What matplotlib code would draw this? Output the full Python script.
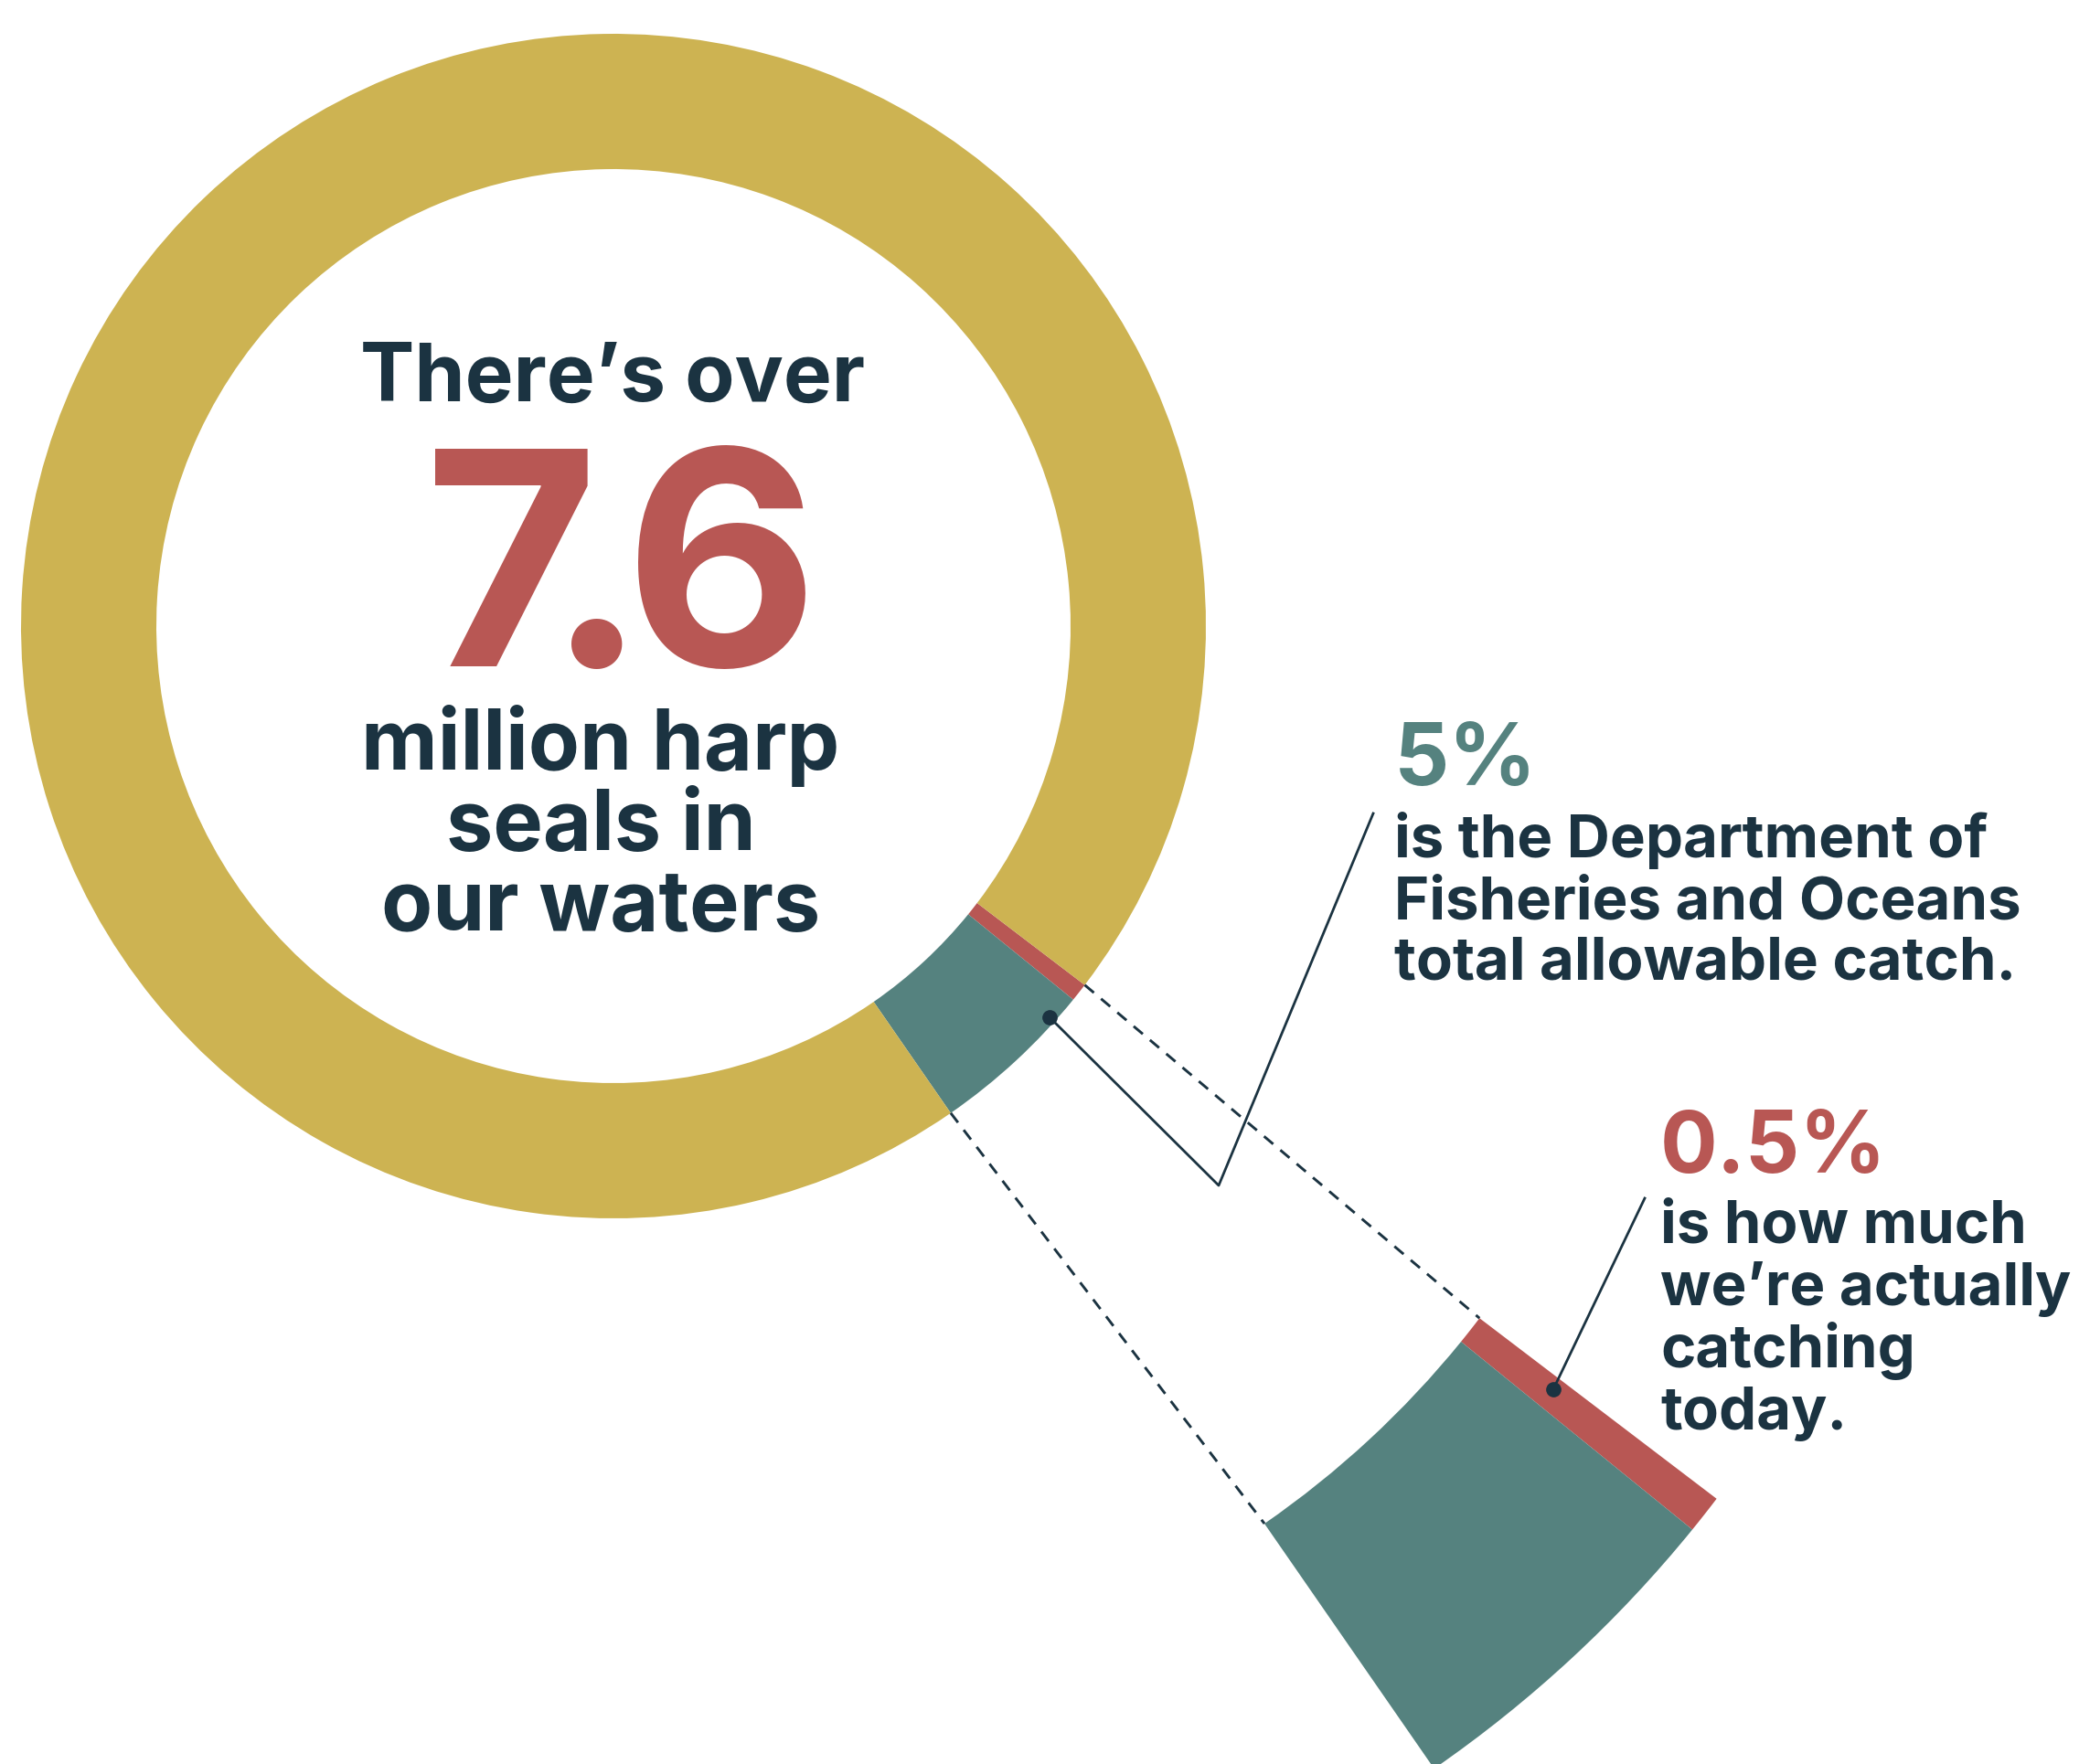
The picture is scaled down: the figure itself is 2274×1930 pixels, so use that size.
import numpy as np
import matplotlib
matplotlib.use("Agg")
import matplotlib.pyplot as plt

# shares of the harp seal population (percent)
shares = [0.5, 4.5, 95.0]          # actually caught, rest of allowable catch, remaining
share_colors = ["#B85754", "#55827F", "#CDB352"]
start_angle = 37.3                 # degrees, measured downward from 3 o'clock

headline = "There’s over"
big_number = "7.6"
subline = ["million harp", "seals in", "our waters"]
tac_pct = "5%"
tac_text = ["is the Department of", "Fisheries and Oceans", "total allowable catch."]
catch_pct = "0.5%"
catch_text = ["is how much", "we’re actually", "catching", "today."]

DARK = "#1B3341"
W, H = 2274, 1931

fig = plt.figure(figsize=(W / 100, H / 100), dpi=100)
ax = fig.add_axes([0, 0, 1, 1])

# main donut
c0, r0_out, r0_w = (671, 686), 648, 148
ax.pie(shares, colors=share_colors, startangle=start_angle, counterclock=True,
       radius=r0_out, center=c0, wedgeprops=dict(width=r0_w, linewidth=0))

# magnified slice (only the 5% part)
c1, r1_out, r1_w = (791, 813), 1366, 326
wedges, _ = ax.pie(shares, colors=share_colors, startangle=start_angle, counterclock=True,
                   radius=r1_out, center=c1, wedgeprops=dict(width=r1_w, linewidth=0))
wedges[2].set_visible(False)

ax.set_xlim(0, W)
ax.set_ylim(H, 0)
ax.set_aspect("equal")
ax.axis("off")


def polar(c, r, deg):
    t = np.deg2rad(deg)
    return c[0] + r * np.cos(t), c[1] + r * np.sin(t)


# dashed connectors from the small slice to the big one
a_top = start_angle
a_bot = start_angle + 360 * (shares[0] + shares[1]) / 100
for a in (a_top, a_bot):
    p0 = polar(c0, r0_out, a)
    p1 = polar(c1, r1_out - r1_w, a)
    ax.plot([p0[0], p1[0]], [p0[1], p1[1]], color=DARK, lw=2.1,
            dashes=(4.5, 3.5), solid_capstyle="butt", zorder=3)

# leader lines
ax.plot([1148, 1333, 1502], [1114, 1298, 891], color=DARK, lw=2.0, zorder=4)
ax.plot([1148], [1114], "o", color=DARK, ms=11, zorder=5)
ax.plot([1699, 1799], [1521, 1312], color=DARK, lw=2.0, zorder=4)
ax.plot([1699], [1521], "o", color=DARK, ms=11, zorder=5)

fam = ["Inter", "DejaVu Sans"]

# centre text
ax.text(670, 439, headline, ha="center", va="baseline", fontsize=64,
        fontweight="bold", color=DARK, family=fam)
# big number set glyph by glyph for the tight tracking of the original
for ch, x in zip(big_number, (559, 653, 789)):
    ax.text(x, 729, ch, ha="center", va="baseline", fontsize=236,
            fontweight="bold", color=share_colors[0], family=fam)
for i, line in enumerate(subline):
    ax.text(657, 842 + i * 88, line, ha="center", va="baseline", fontsize=66,
            fontweight="bold", color=DARK, family=fam)

# right annotations
ax.text(1525, 859, tac_pct, ha="left", va="baseline", fontsize=68,
        fontweight="bold", color=share_colors[1], family=fam)
for i, line in enumerate(tac_text):
    ax.text(1525, 938 + i * 67, line, ha="left", va="baseline", fontsize=47,
            fontweight="bold", color=DARK, family=fam)

ax.text(1816, 1283, catch_pct, ha="left", va="baseline", fontsize=67,
        fontweight="bold", color=share_colors[0], family=fam)
for i, line in enumerate(catch_text):
    ax.text(1816, 1360 + i * 68, line, ha="left", va="baseline", fontsize=47,
            fontweight="bold", color=DARK, family=fam)

fig.savefig("out.png", dpi=100, facecolor="white")
